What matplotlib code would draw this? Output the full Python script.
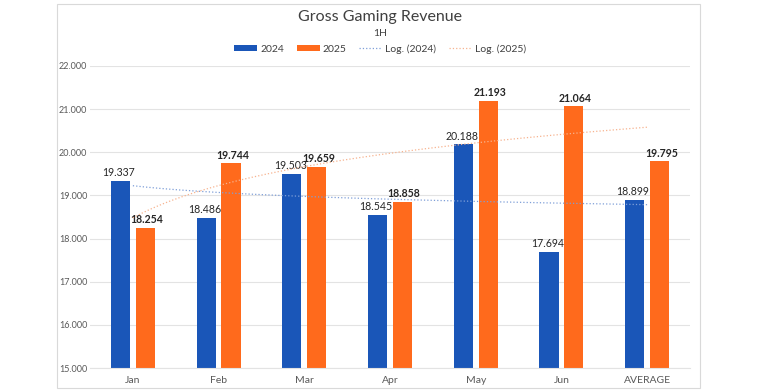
import numpy as np
import matplotlib.pyplot as plt
from matplotlib.patches import Rectangle

# data
months = ['Jan', 'Feb', 'Mar', 'Apr', 'May', 'Jun', 'AVERAGE']
rev_2024 = [19337, 18486, 19503, 18545, 20188, 17694, 18899]
rev_2025 = [18254, 19744, 19659, 18858, 21193, 21064, 19795]

blue = '#1A56B8'
orange = '#FF6A1C'
plt.rcParams['font.family'] = ['Lato', 'DejaVu Sans']

fig = plt.figure(figsize=(7.6, 3.92), dpi=100)
# chart frame
fig.patches.append(Rectangle((57/760, 4/392), 643/760, 384/392, transform=fig.transFigure,
                             fill=False, edgecolor='#D9D9D9', linewidth=0.8))
ax = fig.add_axes([90/760, 24/392, 600/760, 302/392])

x = np.arange(len(months))
w = 0.225
off = 0.145
b1 = ax.bar(x - off, rev_2024, w, color=blue, label='2024', zorder=2)
b2 = ax.bar(x + off, rev_2025, w, color=orange, label='2025', zorder=2)

for xi, v in zip(x - off, rev_2024):
    ax.text(xi - 0.02, v + 60, f'{v/1000:.3f}', ha='center', va='bottom', fontsize=7.6, color='#262626')
for xi, v in zip(x + off, rev_2025):
    ax.text(xi + 0.02, v + 60, f'{v/1000:.3f}', ha='center', va='bottom', fontsize=7.6,
            color='#262626', fontweight='bold')

# logarithmic trendlines, like Excel (fit y = a*ln(n) + b, n = 1..7)
n = x + 1
xs = np.linspace(1, len(months), 200)
c1 = np.polyfit(np.log(n), rev_2024, 1)
c2 = np.polyfit(np.log(n), rev_2025, 1)
l1, = ax.plot(xs - 1, np.polyval(c1, np.log(xs)), ls=':', lw=0.9, color='#7F9FD8', label='Log. (2024)', zorder=3)
l2, = ax.plot(xs - 1, np.polyval(c2, np.log(xs)), ls=':', lw=0.9, color='#F7B38F', label='Log. (2025)', zorder=3)

ax.set_ylim(15000, 22000)
ax.set_xlim(-0.5, len(months) - 0.5)
ax.set_yticks(range(15000, 22001, 1000))
ax.set_yticklabels([f'{t/1000:.3f}' for t in range(15000, 22001, 1000)])
ax.set_xticks(x)
ax.set_xticklabels(months)
ax.tick_params(axis='y', labelsize=6.5, colors='#595959', length=0, pad=2)
ax.tick_params(axis='x', labelsize=7.5, colors='#595959', length=0, pad=6)
ax.grid(axis='y', color='#E3E3E3', lw=0.8, zorder=0)
for s in ax.spines.values():
    s.set_visible(False)
ax.spines['bottom'].set_visible(True)
ax.spines['bottom'].set_color('#E3E3E3')

fig.text(0.5, 1 - 17/392, 'Gross Gaming Revenue', ha='center', va='center', fontsize=11.5, color='#404040')
fig.text(0.5, 1 - 33/392, '1H', ha='center', va='center', fontsize=7.5, color='#404040')
fig.legend([b1, b2, l1, l2], ['2024', '2025', 'Log. (2024)', 'Log. (2025)'],
           loc='center', bbox_to_anchor=(0.5, 1 - 49/392), ncol=4, frameon=False, fontsize=7.5,
           handlelength=2.2, handleheight=0.5, columnspacing=1.2, handletextpad=0.3,
           labelcolor='#404040')

fig.savefig('out.png', dpi=100)
